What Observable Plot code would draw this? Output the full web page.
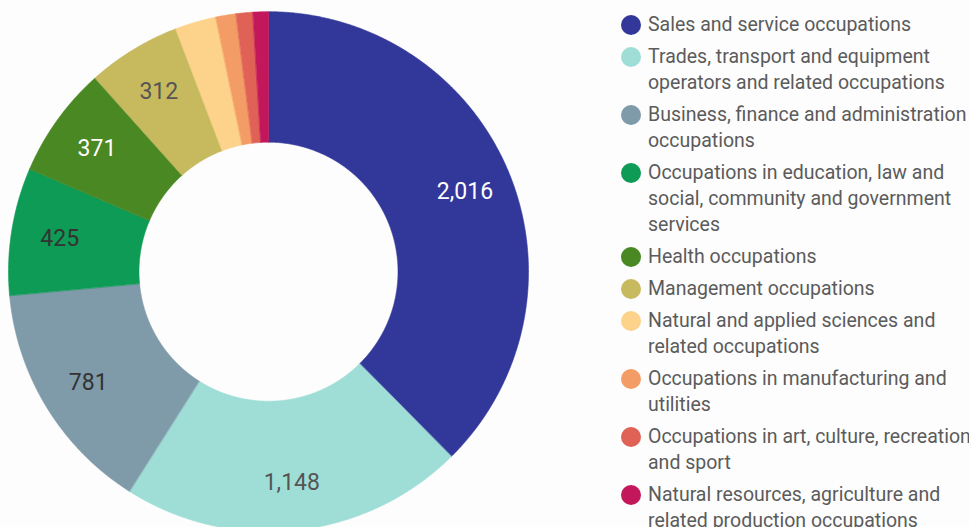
<!DOCTYPE html>
<html>
<head>
<meta charset="utf-8">
<script src="https://cdn.jsdelivr.net/npm/d3@7"></script>
<script src="https://cdn.jsdelivr.net/npm/@observablehq/plot@0.6"></script>
<style>
  html, body { margin: 0; padding: 0; }
  body { width: 969px; height: 527px; overflow: hidden; background: #fdfdfd; position: relative; font-family: Roboto, "Noto Sans", sans-serif; }
  #chart { position: absolute; left: 0; top: 0; }
  #legend { position: absolute; left: 621px; top: 12px; }
  .item { display: flex; align-items: flex-start; margin-bottom: 6px; }
  .dot { width: 20px; height: 20px; border-radius: 50%; margin-top: 3px; margin-right: 7px; flex: none; }
  .txt { width: 340px; font-size: 19.5px; line-height: 26px; color: #5b5b5b; }
</style>
</head>
<body>
<div id="chart"></div>
<div id="legend"></div>
<script>
const categories = [
  "Sales and service occupations",
  "Trades, transport and equipment operators and related occupations",
  "Business, finance and administration occupations",
  "Occupations in education, law and social, community and government services",
  "Health occupations",
  "Management occupations",
  "Natural and applied sciences and related occupations",
  "Occupations in manufacturing and utilities",
  "Occupations in art, culture, recreation and sport",
  "Natural resources, agriculture and related production occupations"
];
const values = [2016, 1148, 781, 425, 371, 312, 137, 67, 56, 51];
const colors = ["#32379a", "#9fded6", "#7f9aa9", "#0d9b55", "#4a8823", "#c7b95e", "#fdd28a", "#f39c65", "#e06257", "#c2185b"];
const labelInk = ["#ffffff", "#555555", "#333333", "#333333", "#ffffff", "#555555", "#333333", "#333333", "#333333", "#333333"];

const data = categories.map((c, i) => ({cat: c, value: values[i], ink: labelInk[i]}));
const arcs = d3.pie().sort(null).value(d => d.value)(data);

// geometry (unit = outer radius)
const R1 = 1, R0 = 129.5 / 260, RL = 0.815;
const rows = [];
for (const a of arcs) {
  const n = Math.max(2, Math.ceil((a.endAngle - a.startAngle) / 0.005));
  for (let i = 0; i <= n; ++i) {
    const t = a.startAngle + (a.endAngle - a.startAngle) * i / n;
    rows.push({cat: a.data.cat, x1: R0 * Math.sin(t), y1: R0 * Math.cos(t), x2: R1 * Math.sin(t), y2: R1 * Math.cos(t)});
  }
}
const labels = arcs.filter(a => a.endAngle - a.startAngle > 0.3).map(a => {
  const m = (a.startAngle + a.endAngle) / 2;
  return {x: RL * Math.sin(m), y: RL * Math.cos(m), text: d3.format(",")(a.data.value), ink: a.data.ink};
});
const inks = [...new Set(labels.map(d => d.ink))];

const plot = Plot.plot({
  width: 560,
  height: 527,
  margin: 0,
  x: {domain: [-268.5 / 260, 291.5 / 260], axis: null},
  y: {domain: [-255.3 / 260, 271.7 / 260], axis: null},
  color: {domain: categories, range: colors},
  style: {background: "transparent", fontFamily: "Roboto, sans-serif", overflow: "hidden"},
  marks: [
    Plot.area(rows, {x1: "x1", y1: "y1", x2: "x2", y2: "y2", z: "cat", fill: "cat", stroke: "cat", strokeWidth: 0.6}),
    ...inks.map(ink => Plot.text(labels.filter(d => d.ink === ink), {x: "x", y: "y", text: "text", fill: ink, fontSize: 23}))
  ]
});
document.getElementById("chart").appendChild(plot);

const legend = document.getElementById("legend");
categories.forEach((c, i) => {
  const item = document.createElement("div");
  item.className = "item";
  const dot = document.createElement("div");
  dot.className = "dot";
  dot.style.background = colors[i];
  const txt = document.createElement("div");
  txt.className = "txt";
  txt.textContent = c;
  item.appendChild(dot);
  item.appendChild(txt);
  legend.appendChild(item);
});
</script>
</body>
</html>
